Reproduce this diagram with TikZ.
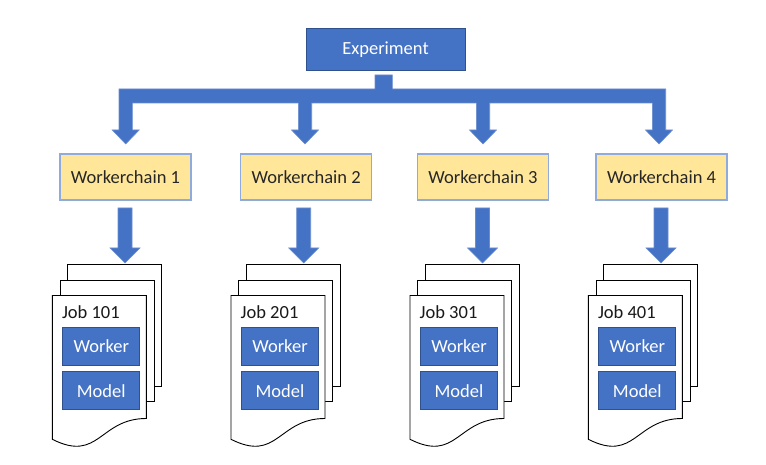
\documentclass[tikz,border=0pt]{standalone}
\usepackage{fontspec}
\setmainfont{Carlito}
\definecolor{ofblue}{HTML}{4472C4}
\definecolor{ofdark}{HTML}{2F528F}
\definecolor{ofyellow}{HTML}{FFE699}
\definecolor{ofedge}{HTML}{8FAADC}
\tikzset{
  txt/.style={font=\fontsize{18.5}{22}\selectfont},
  bluebox/.style={txt, fill=ofblue, draw=ofdark, line width=1pt, text=white, inner sep=0pt},
  wcbox/.style={txt, fill=ofyellow, draw=ofedge, line width=1.3pt, text=black!85,
    minimum width=131pt, minimum height=46pt, inner sep=0pt},
  pagesheet/.style={fill=white, draw=black, line width=0.9pt},
  blockarrow/.style={fill=ofblue, draw=ofblue!80!white, line width=0.6pt, line join=miter},
  joblabel/.style={txt, text=black!90, anchor=west, inner sep=0pt},
}
% down block arrow: #1 top-centre coordinate, #2 half stem, #3 stem length, #4 half head, #5 head length
\newcommand\blkarrow[5]{%
  \path[blockarrow] (#1) ++(-#2,0) -- ++(2*#2,0) -- ++(0,#3) -- ++(#4-#2,0)
    -- ++(-#4,#5) -- ++(-#4,-#5) -- ++(#4-#2,0) -- cycle;}
% stack of job sheets: #1 front left x, #2 name, #3 label
\newcommand\jobstack[3]{%
  \begin{scope}[shift={(#1,0)}]
    \draw[pagesheet] (15.4,264.5) rectangle (109.4,386);
    \draw[pagesheet] (7.7,280) rectangle (101.7,401.5);
    \draw[pagesheet] (0,295.5) -- (94,295.5) -- (94,418.5)
      .. controls (47,418.5) and (47,463) .. (0,439.3) -- cycle;
    \node[joblabel] (#2t) at (9.5,312) {#3};
    \node[bluebox, minimum width=77pt, minimum height=38pt] (#2w) at (49,346) {Worker};
    \node[bluebox, minimum width=77pt, minimum height=38.5pt] (#2m) at (49,390.7) {Model};
  \end{scope}}
\begin{document}
\begin{tikzpicture}[x=1pt,y=-1pt]
\useasboundingbox (0,0) rectangle (766,465);

\node[bluebox, minimum width=159pt, minimum height=42.5pt] (exp) at (385.5,49.5) {Experiment};
\node[wcbox] (wc1) at (125.5,177) {Workerchain 1};
\node[wcbox] (wc2) at (306.2,177) {Workerchain 2};
\node[wcbox] (wc3) at (483,177) {Workerchain 3};
\node[wcbox] (wc4) at (661.5,177) {Workerchain 4};

% top branching connector
\path[blockarrow]
  (119,89) -- (375,89) -- (375,75) -- (392.3,75) -- (392.3,89) -- (665.7,89)
  -- (665.7,130) -- (672.5,130) -- (659,144) -- (645.5,130) -- (652.3,130)
  -- (652.3,103) -- (489.7,103) -- (489.7,130) -- (496.5,130) -- (483,144)
  -- (469.5,130) -- (476.3,130) -- (476.3,103) -- (311.7,103) -- (311.7,130)
  -- (318.5,130) -- (305,144) -- (291.5,130) -- (298.3,130) -- (298.3,103)
  -- (132.3,103) -- (132.3,130) -- (139.2,130) -- (125.7,144) -- (112.2,130)
  -- (119,130) -- cycle;

\jobstack{52.3}{j1}{Job 101}
\jobstack{231}{j2}{Job 201}
\jobstack{410}{j3}{Job 301}
\jobstack{588.3}{j4}{Job 401}

\coordinate (a1) at (125,208);
\coordinate (a2) at (303.7,208);
\coordinate (a3) at (482.5,208);
\coordinate (a4) at (661,208);
\blkarrow{a1}{7}{40}{15}{15}
\blkarrow{a2}{7}{40}{15}{15}
\blkarrow{a3}{7}{40}{15}{15}
\blkarrow{a4}{7}{40}{15}{15}
\end{tikzpicture}
\end{document}
